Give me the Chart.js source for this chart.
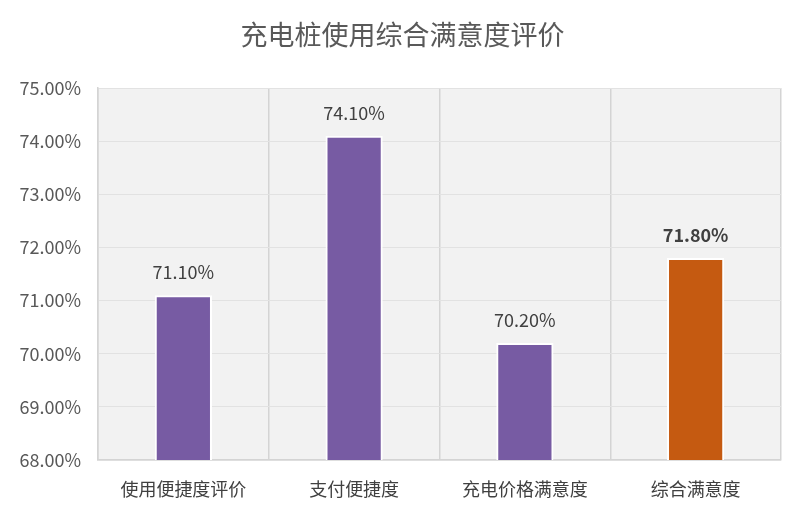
<!DOCTYPE html>
<html>
<head>
<meta charset="utf-8">
<script src="https://cdn.jsdelivr.net/npm/chart.js@4/dist/chart.umd.min.js"></script>
<style>
  html, body { margin: 0; padding: 0; background: #fff; }
  #wrap { width: 803px; height: 523px; }
</style>
</head>
<body>
<div id="wrap"><canvas id="grafico"></canvas></div>
<script>
var titulo = '充电桩使用综合满意度评价';
var categorias = ['使用便捷度评价', '支付便捷度', '充电价格满意度', '综合满意度'];
var valores = [71.10, 74.10, 70.20, 71.80];
var colores = ['#775ba3', '#775ba3', '#775ba3', '#c55a11'];
var etiquetasNegrita = [false, false, false, true];
var ejeMin = 68, ejeMax = 75, ejePaso = 1;

var FUENTE = '"Microsoft YaHei", "Noto Sans CJK SC", "DejaVu Sans", sans-serif';

// fondo gris del area de trazado + titulo
var fondoPlugin = {
    id: 'fondo',
    beforeDraw: function (chart) {
        var ctx = chart.ctx, a = chart.chartArea;
        ctx.save();
        ctx.fillStyle = '#f2f2f2';
        ctx.fillRect(a.left, a.top, a.right - a.left, a.bottom - a.top);
        ctx.fillStyle = '#595959';
        ctx.font = '27px ' + FUENTE;
        ctx.textAlign = 'center';
        ctx.textBaseline = 'middle';
        ctx.fillText(titulo, chart.width / 2 + 1, 35);
        ctx.restore();
    }
};

// etiquetas de valor encima de cada barra
var etiquetasPlugin = {
    id: 'etiquetas',
    afterDatasetsDraw: function (chart) {
        var ctx = chart.ctx;
        var meta = chart.getDatasetMeta(0);
        ctx.save();
        ctx.textAlign = 'center';
        ctx.textBaseline = 'bottom';
        meta.data.forEach(function (barra, i) {
            ctx.fillStyle = '#404040';
            ctx.font = (etiquetasNegrita[i] ? 'bold ' : '') + '18px ' + FUENTE;
            ctx.fillText(valores[i].toFixed(2) + '%', barra.x, barra.y - 14);
        });
        ctx.restore();
    }
};

var ctx = document.getElementById('grafico').getContext('2d');
new Chart(ctx, {
    type: 'bar',
    data: {
        labels: categorias,
        datasets: [{
            data: valores,
            backgroundColor: colores,
            borderColor: '#ffffff',
            borderWidth: 2,
            borderSkipped: 'bottom',
            categoryPercentage: 1,
            barPercentage: 0.335
        }]
    },
    options: {
        responsive: true,
        maintainAspectRatio: false,
        animation: false,
        layout: { padding: { top: 88, right: 22, left: 0, bottom: 0 } },
        plugins: {
            legend: { display: false },
            title: { display: false },
            tooltip: { enabled: false }
        },
        scales: {
            x: {
                offset: true,
                grid: { offset: true, color: '#d4d4d4', lineWidth: 1.5, drawTicks: false },
                border: { display: true, color: '#d4d4d4', width: 1.5 },
                ticks: { color: '#404040', font: { size: 18, family: FUENTE }, padding: 18 },
                afterFit: function (s) { s.height = 63; }
            },
            y: {
                min: ejeMin,
                max: ejeMax,
                ticks: {
                    stepSize: ejePaso,
                    color: '#595959',
                    font: { size: 18, family: FUENTE },
                    padding: 17,
                    callback: function (v) { return v.toFixed(2) + '%'; }
                },
                grid: {
                    drawTicks: false,
                    color: function (c) { return c.tick && c.tick.value === ejeMin ? '#d4d4d4' : '#e2e2e2'; },
                    lineWidth: function (c) { return c.tick && c.tick.value === ejeMin ? 1.5 : 1; }
                },
                border: { display: true, color: '#d4d4d4', width: 1.5 },
                afterFit: function (s) { s.width = 98; }
            }
        }
    },
    plugins: [fondoPlugin, etiquetasPlugin]
});
</script>
</body>
</html>
